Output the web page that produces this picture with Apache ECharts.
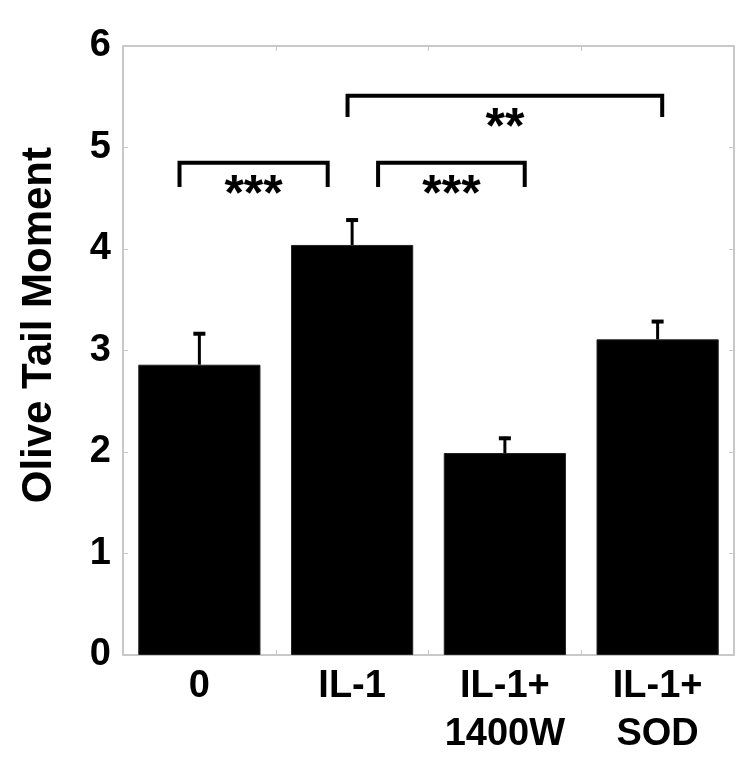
<!DOCTYPE html>
<html>
<head>
<meta charset="utf-8">
<script src="https://cdn.jsdelivr.net/npm/echarts@6/dist/echarts.min.js"></script>
<style>html,body{margin:0;padding:0;background:#fff}#c{width:750px;height:773px}</style>
</head>
<body>
<div id="c"></div>
<script>
// ---- data ----
const categories = ['0', 'IL-1', 'IL-1+\n1400W', 'IL-1+\nSOD'];
const means = [2.86, 4.04, 1.99, 3.11];
const errors = [0.32, 0.26, 0.16, 0.19];
const yTicks = [0, 1, 2, 3, 4, 5, 6];
const yTitle = 'Olive Tail Moment';
// brackets: [fromCat, toCat, topValue, legValue, label]
const bracketFrom = [-0.13, 1.17, 0.97];
const bracketTo = [0.84, 2.13, 3.03];
const bracketTop = [4.85, 4.85, 5.51];
const bracketLeg = [4.61, 4.61, 5.30];
const bracketLabels = ['***', '***', '**'];

const FONT = '"Liberation Sans", Arial, sans-serif';
const chart = echarts.init(document.getElementById('c'), null, {renderer: 'canvas'});

const axisGray = '#c8c8c8';
const common = {
  axisLine: {show: true, onZero: false, lineStyle: {color: axisGray, width: 2}},
  axisTick: {show: true, inside: true, length: 5, lineStyle: {color: axisGray, width: 1}},
  splitLine: {show: false}
};

const bracketData = bracketFrom.map((f, i) => [f, bracketTo[i], bracketTop[i], bracketLeg[i], i]);

chart.setOption({
  animation: false,
  backgroundColor: '#fff',
  grid: {left: 123, right: 16, top: 46, bottom: 118, containLabel: false},
  graphic: [{
    type: 'text', left: 18, top: 147,
    rotation: Math.PI / 2,
    style: {text: yTitle, font: 'bold 42px ' + FONT, fill: '#000'}
  }],
  xAxis: [
    Object.assign({}, common, {
      type: 'category', data: categories, position: 'bottom',
      axisLabel: {color: '#000', fontFamily: FONT, fontWeight: 'bold', fontSize: 38, lineHeight: 48, margin: 8, interval: 0}
    }),
    Object.assign({}, common, {
      type: 'category', data: categories, position: 'top',
      axisLabel: {show: false}
    })
  ],
  yAxis: [
    Object.assign({}, common, {
      type: 'value', min: yTicks[0], max: yTicks[yTicks.length - 1], interval: 1, position: 'left',
      axisLabel: {color: '#000', fontFamily: FONT, fontWeight: 'bold', fontSize: 38, margin: 12}
    }),
    Object.assign({}, common, {
      type: 'value', min: yTicks[0], max: yTicks[yTicks.length - 1], interval: 1, position: 'right',
      axisLabel: {show: false}
    })
  ],
  series: [
    {
      type: 'bar', data: means, xAxisIndex: 0, yAxisIndex: 0,
      barCategoryGap: '20%',
      itemStyle: {color: '#000', borderColor: '#222', borderWidth: 1},
      z: 2
    },
    {
      type: 'custom', xAxisIndex: 0, yAxisIndex: 0, z: 3,
      data: means.map((m, i) => [i, m, m + errors[i]]),
      renderItem: function (params, api) {
        const base = api.coord([api.value(0), api.value(1)]);
        const top = api.coord([api.value(0), api.value(2)]);
        const x = base[0];
        return {
          type: 'group',
          children: [
            {type: 'line', shape: {x1: x, y1: base[1], x2: x, y2: top[1]}, style: {stroke: '#000', lineWidth: 3}},
            {type: 'line', shape: {x1: x - 6, y1: top[1] + 1.5, x2: x + 6, y2: top[1] + 1.5}, style: {stroke: '#000', lineWidth: 4}}
          ]
        };
      }
    },
    {
      type: 'custom', xAxisIndex: 0, yAxisIndex: 0, z: 4,
      data: bracketData,
      renderItem: function (params, api) {
        const bw = api.size([1, 0])[0];
        const c0 = api.coord([0, 0])[0];
        const x1 = c0 + api.value(0) * bw;
        const x2 = c0 + api.value(1) * bw;
        const yT = api.coord([0, api.value(2)])[1];
        const yL = api.coord([0, api.value(3)])[1];
        const label = bracketLabels[api.value(4)];
        return {
          type: 'group',
          children: [
            {type: 'polyline', shape: {points: [[x1, yL], [x1, yT], [x2, yT], [x2, yL]]},
             style: {stroke: '#000', lineWidth: 4, fill: null, lineJoin: 'miter'}},
            {type: 'text', style: {text: label, x: (x1 + x2) / 2, y: yT + 33, align: 'center', verticalAlign: 'middle',
              font: 'bold 50px ' + FONT, fill: '#000'}}
          ]
        };
      }
    }
  ]
});
</script>
</body>
</html>
